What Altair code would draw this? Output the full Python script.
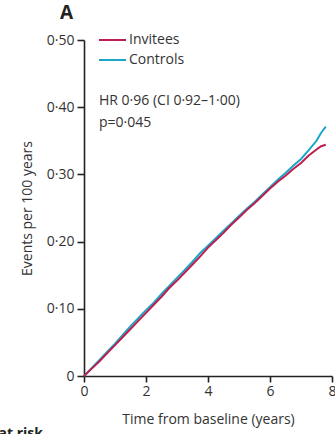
import altair as alt
import pandas as pd

# Data
times = [0, 0.25, 0.5, 0.75, 1.0, 1.25, 1.5, 1.75, 2.0, 2.25, 2.5, 2.75, 3.0, 3.25, 3.5, 3.75,
         4.0, 4.25, 4.5, 4.75, 5.0, 5.25, 5.5, 5.75, 6.0, 6.25, 6.5, 6.75, 7.0, 7.25, 7.5, 7.65, 7.8]
controls = [0, 0.012, 0.024, 0.036, 0.048, 0.061, 0.074, 0.086, 0.098, 0.109, 0.122, 0.134, 0.146,
            0.158, 0.170, 0.183, 0.194, 0.205, 0.216, 0.227, 0.238, 0.249, 0.259, 0.270, 0.281,
            0.292, 0.302, 0.313, 0.323, 0.336, 0.350, 0.362, 0.371]
invitees = [0, 0.011, 0.022, 0.034, 0.046, 0.058, 0.070, 0.082, 0.094, 0.106, 0.118, 0.131, 0.142,
            0.154, 0.166, 0.178, 0.191, 0.202, 0.213, 0.225, 0.236, 0.247, 0.257, 0.268, 0.279,
            0.289, 0.298, 0.308, 0.317, 0.328, 0.337, 0.342, 0.344]
series_names = ["Invitees", "Controls"]
series_colors = ["#BE1E4D", "#1AA6C9"]
hr_lines = ["HR 0·96 (CI 0·92–1·00)", "p=0·045"]

FONT = "Open Sans"
TXT = "#333333"

rows = []
for t, c in zip(times, controls):
    rows.append({"t": t, "v": c, "g": "Controls", "o": 0})
for t, i in zip(times, invitees):
    rows.append({"t": t, "v": i, "g": "Invitees", "o": 1})
df = pd.DataFrame(rows)

W, H = 248, 336

lines = alt.Chart(df).mark_line(strokeWidth=2, clip=False).encode(
    x=alt.X("t:Q", scale=alt.Scale(domain=[0, 8], nice=False),
            axis=alt.Axis(values=[0, 2, 4, 6, 8], title="Time from baseline (years)",
                          titlePadding=14, labelPadding=2, tickSize=6, grid=False,
                          labelFlush=False, format="d")),
    y=alt.Y("v:Q", scale=alt.Scale(domain=[0, 0.5], nice=False),
            axis=alt.Axis(values=[0, 0.1, 0.2, 0.3, 0.4, 0.5], title="Events per 100 years",
                          titlePadding=12, labelPadding=3, tickSize=7, grid=False,
                          labelExpr="datum.value == 0 ? '0' : replace(format(datum.value, '.2f'), '.', '·')")),
    color=alt.Color("g:N", scale=alt.Scale(domain=series_names, range=series_colors), legend=None),
    order=alt.Order("o:Q"),
    detail="g:N",
)

leg_df = pd.DataFrame({"name": series_names, "color": series_colors, "yy": [0, 20]})
leg_lines = alt.Chart(leg_df).mark_rule(strokeWidth=2).encode(
    x=alt.value(15), x2=alt.value(42), y=alt.Y("yy:Q", scale=None),
    color=alt.Color("color:N", scale=None))
leg_text = alt.Chart(leg_df).mark_text(align="left", baseline="middle", font=FONT, fontSize=14,
                                        color=TXT).encode(
    x=alt.value(45), y=alt.Y("yy:Q", scale=None), text="name:N")

hr_df = pd.DataFrame({"txt": hr_lines, "yy": [61, 83]})
hr_text = alt.Chart(hr_df).mark_text(align="left", baseline="middle", font=FONT, fontSize=14,
                                      color=TXT).encode(
    x=alt.value(15), y=alt.Y("yy:Q", scale=None), text="txt:N")

panel = alt.Chart(pd.DataFrame({"txt": ["A"]})).mark_text(
    align="left", baseline="middle", font=FONT, fontSize=19, fontWeight="bold", color="#222222"
).encode(x=alt.value(-24), y=alt.value(-27), text="txt:N")

risk = alt.Chart(pd.DataFrame({"txt": ["Number at risk"]})).mark_text(
    align="right", baseline="alphabetic", font=FONT, fontSize=14, fontWeight="bold", color="#222222"
).encode(x=alt.value(-41), y=alt.value(H + 62), text="txt:N")

chart = alt.layer(lines, leg_lines, leg_text, hr_text, panel, risk).properties(
    width=W, height=H,
    autosize=alt.AutoSizeParams(type="none"),
    padding={"left": 84, "top": 40, "right": 3, "bottom": 58},
    background="white",
).configure_view(stroke=None).configure_axis(
    domainColor="#222222", domainWidth=1.6, tickColor="#222222", tickWidth=1.6,
    labelFont=FONT, labelFontSize=14, labelColor=TXT,
    titleFont=FONT, titleFontSize=14, titleColor=TXT, titleFontWeight="normal",
)

chart.save("out.html", embed_options={"renderer": "svg", "actions": False})
